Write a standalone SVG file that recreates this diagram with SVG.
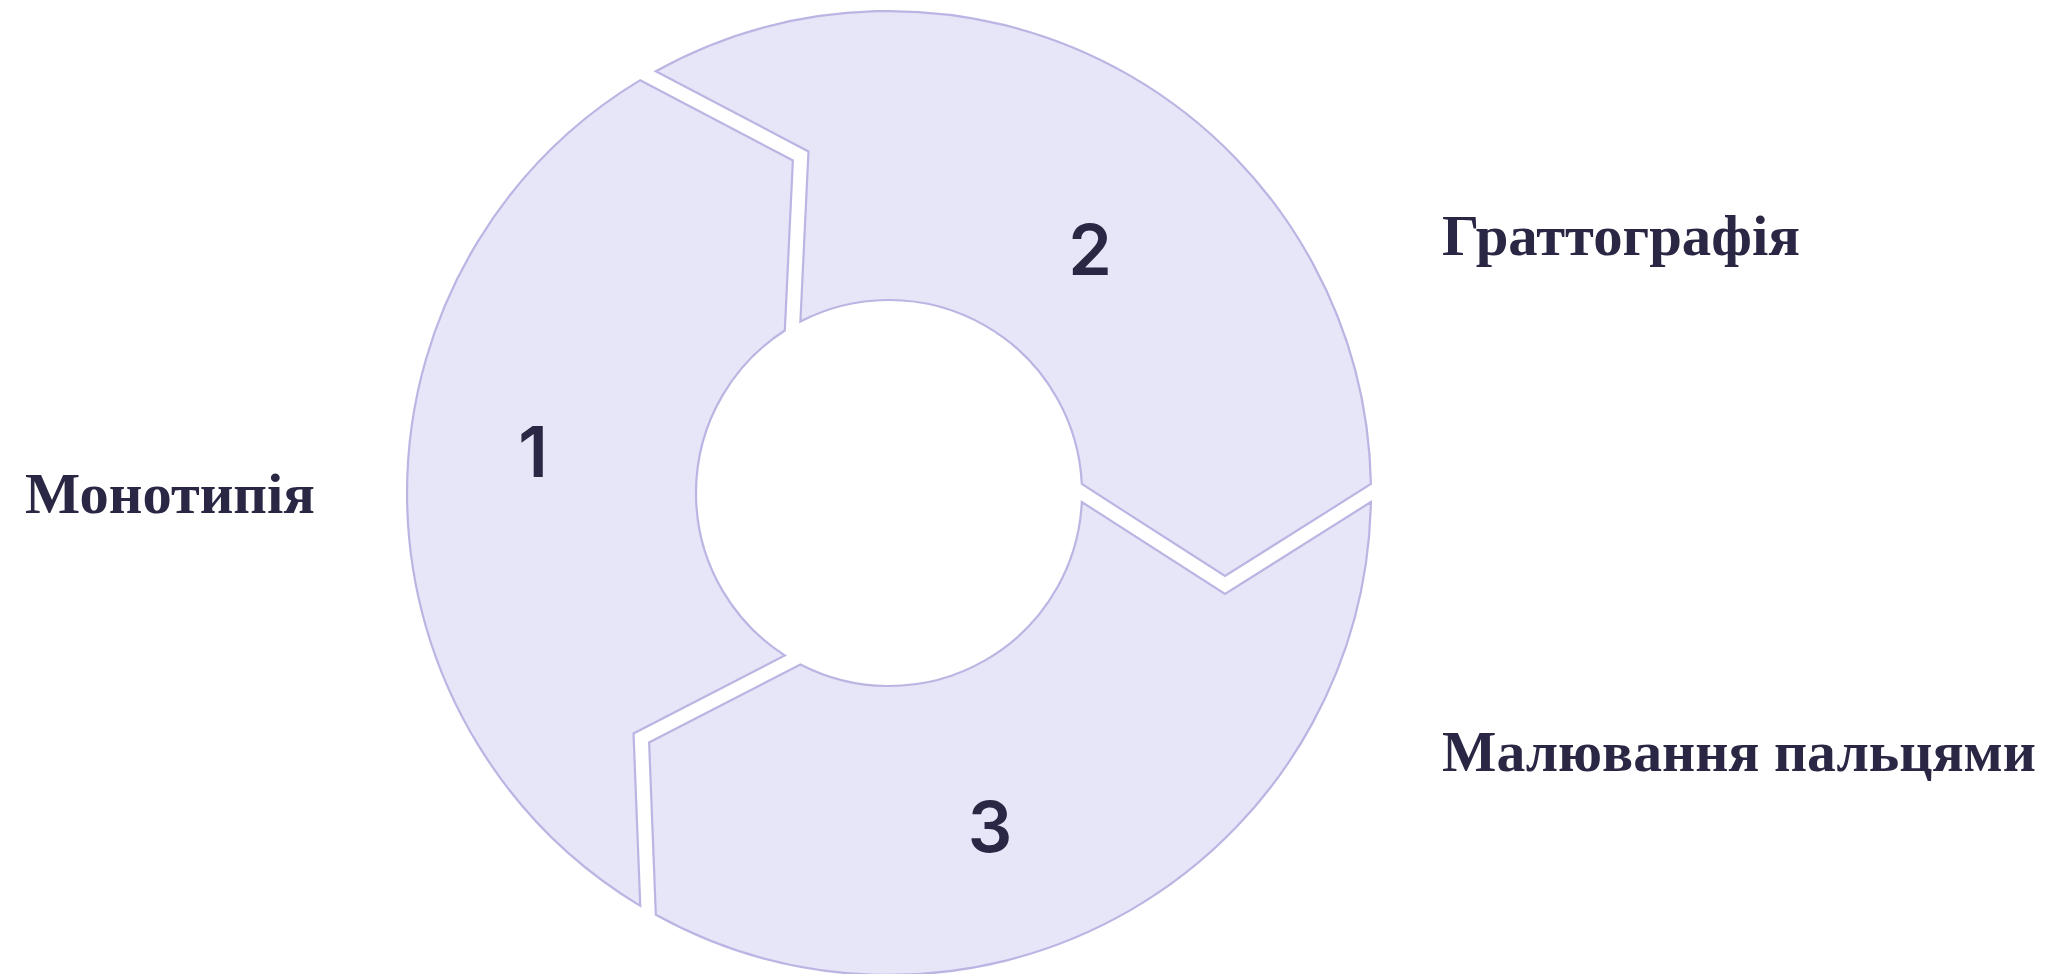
<svg xmlns="http://www.w3.org/2000/svg" xmlns:xlink="http://www.w3.org/1999/xlink" width="2056" height="974" viewBox="0 0 2056 974">
  <style>
    .seg { fill: #E7E5F8; stroke: #BAB5E2; stroke-width: 2.2; stroke-linejoin: miter; }
    .num { font-family: Inter, "Noto Sans", "Liberation Sans", sans-serif; font-weight: 600; font-size: 70px; fill: #2A2744; text-anchor: middle; }
    .lbl { font-family: "Liberation Serif", "DejaVu Serif", serif; font-weight: bold; font-size: 57px; fill: #2A2744; }
  </style>
  <defs>
    <path id="segShape" d="M655.84,71.17 L808.47,151.52 L800.39,321.54 A193,193 0 0 1 1081.8,484 L1225,576 L1370.9,484 A482,482 0 0 0 655.84,71.17 Z"/>
  </defs>
  <rect width="2056" height="974" fill="#FFFFFF"/>
  <g id="connectors"></g>
  <g id="node1">
    <use xlink:href="#segShape" href="#segShape" class="seg" transform="rotate(240 889 493)"/>
    <text class="num" x="533" y="477">1</text>
    <text class="lbl" x="25" y="513" textLength="290" lengthAdjust="spacingAndGlyphs">Монотипія</text>
  </g>
  <g id="node2">
    <use xlink:href="#segShape" href="#segShape" class="seg"/>
    <text class="num" x="1090" y="275">2</text>
    <text class="lbl" x="1442" y="255" textLength="358" lengthAdjust="spacingAndGlyphs">Граттографія</text>
  </g>
  <g id="node3">
    <use xlink:href="#segShape" href="#segShape" class="seg" transform="rotate(120 889 493)"/>
    <text class="num" x="990" y="852">3</text>
    <text class="lbl" x="1442" y="771" textLength="594" lengthAdjust="spacingAndGlyphs">Малювання пальцями</text>
  </g>
</svg>
